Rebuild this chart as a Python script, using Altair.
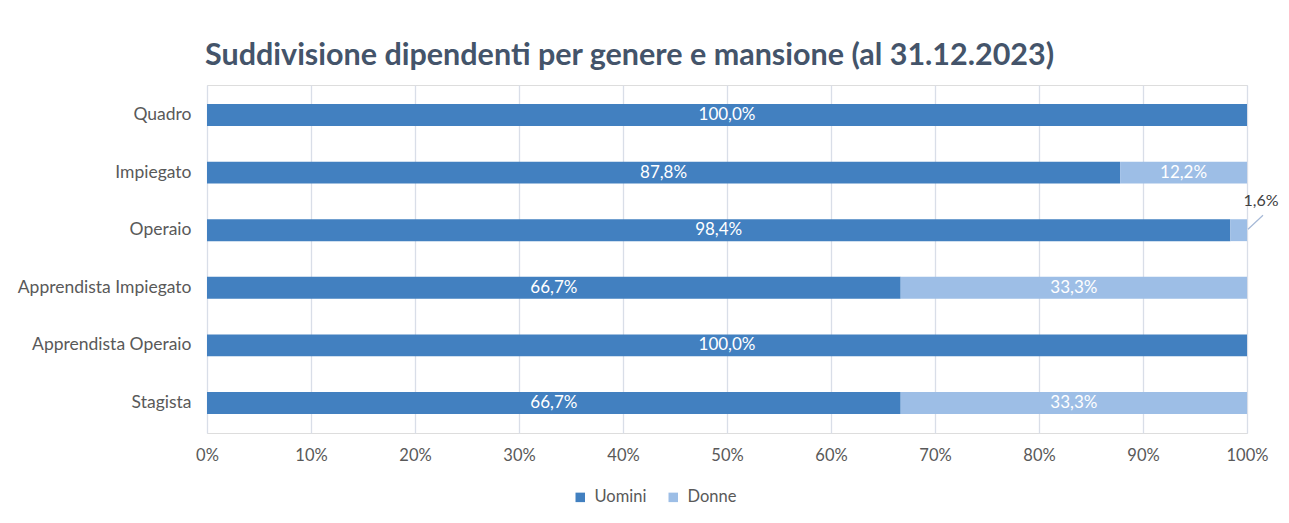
import altair as alt
import pandas as pd

categories = ["Quadro", "Impiegato", "Operaio", "Apprendista Impiegato", "Apprendista Operaio", "Stagista"]
uomini = [100.0, 87.8, 98.4, 66.7, 100.0, 66.7]
donne = [0.0, 12.2, 1.6, 33.3, 0.0, 33.3]
series = ["Uomini", "Donne"]
colors = ["#4280C0", "#9DBEE6"]
x_ticks = [0, 10, 20, 30, 40, 50, 60, 70, 80, 90, 100]
title_text = "Suddivisione dipendenti per genere e mansione (al 31.12.2023)"

rows = []
for i, c in enumerate(categories):
    rows.append({"cat": c, "serie": series[0], "val": uomini[i], "ord": 0})
    rows.append({"cat": c, "serie": series[1], "val": donne[i], "ord": 1})
df = pd.DataFrame(rows)

FONT = "Lato"
LABEL_COLOR = "#595959"

base = (
    alt.Chart(df)
    .transform_stack(stack="val", groupby=["cat"], as_=["x0", "x1"], sort=[alt.SortField("ord")])
    .transform_filter("datum.val > 0")
    .transform_calculate(
        mid="(datum.x0 + datum.x1) / 2",
        lab="replace(format(datum.val, '.1f'), '.', ',') + '%'",
    )
)

y_enc = alt.Y(
    "cat:N",
    sort=categories,
    scale=alt.Scale(paddingInner=0.62, paddingOuter=0.33),
    axis=alt.Axis(
        title=None, domain=False, ticks=False, grid=False,
        labelFont=FONT, labelFontSize=17.5, labelColor=LABEL_COLOR, labelPadding=16,
    ),
)

bars = base.mark_bar().encode(
    y=y_enc,
    x=alt.X(
        "x0:Q",
        scale=alt.Scale(domain=[0, 100], nice=False),
        axis=alt.Axis(
            title=None, values=x_ticks, labelExpr="datum.value + '%'", labelFlush=False,
            domain=False, ticks=False, grid=True, gridColor="#D9DEE8", gridWidth=1.3,
            labelFont=FONT, labelFontSize=16.5, labelColor=LABEL_COLOR, labelPadding=14,
        ),
    ),
    x2="x1:Q",
    color=alt.Color(
        "serie:N",
        scale=alt.Scale(domain=series, range=colors),
        legend=alt.Legend(
            title=None, orient="none", legendX=365, legendY=404, direction="horizontal",
            symbolType="square", symbolSize=90, symbolStrokeWidth=0,
            labelFont=FONT, labelFontSize=16.5, labelColor=LABEL_COLOR,
            labelOffset=6, columnPadding=18,
        ),
    ),
    order=alt.Order("ord:Q"),
)

inside = base.transform_filter("datum.val >= 5").mark_text(
    color="white", font=FONT, fontSize=17
).encode(x="mid:Q", y=alt.Y("cat:N", sort=categories), text="lab:N")

callout = base.transform_filter("datum.val < 5").mark_text(
    color="#404040", font=FONT, fontSize=16, dx=14, dy=-29
).encode(x="x1:Q", y=alt.Y("cat:N", sort=categories), text="lab:N")

leader = base.transform_filter("datum.val < 5").mark_rule(
    color="#A5B8D6", strokeWidth=1.2, xOffset=1, x2Offset=16, yOffset=-1, y2Offset=-15
).encode(x="x1:Q", x2="x1:Q", y=alt.Y("cat:N", sort=categories), y2=alt.Y2("cat"))

chart = (
    alt.layer(bars, inside, leader, callout)
    .properties(
        width=1040,
        height=348,
        title=alt.TitleParams(
            title_text, anchor="start", frame="group", font=FONT, fontSize=30.5,
            fontWeight="bold", color="#44546A", offset=14, dx=-2,
        ),
        autosize=alt.AutoSizeParams(type="none"),
        padding={"left": 199, "top": 77, "right": 34, "bottom": 80},
    )
    .configure_view(stroke=None)
    .configure(background="white")
)

chart.save("out.html", embed_options={"renderer": "svg", "actions": False})
